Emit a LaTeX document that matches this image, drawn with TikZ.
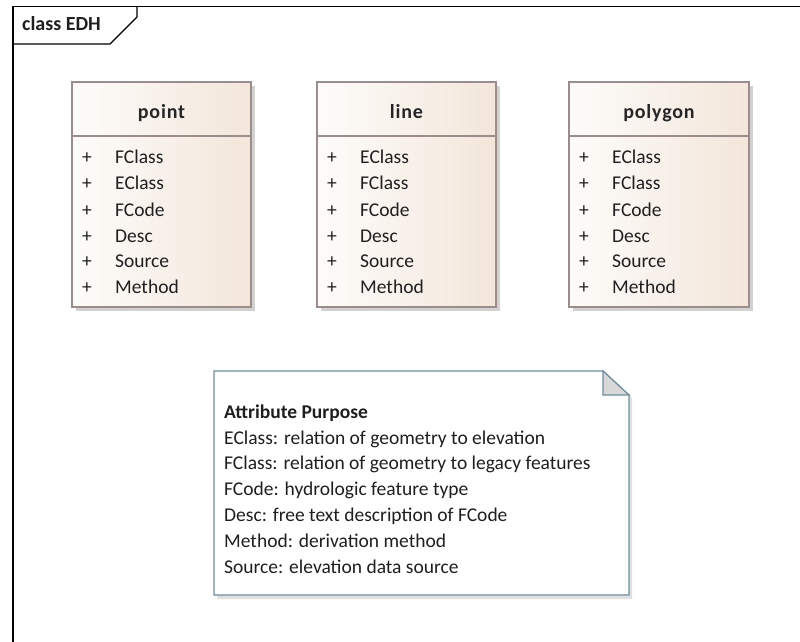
\documentclass[tikz,border=0pt]{standalone}
\usepackage{fontspec}
\setmainfont{Carlito}
\begin{document}
\begin{tikzpicture}[x=1pt,y=-1pt,
  txt/.style={font=\fontsize{19.5}{22}\selectfont, text=black!88, inner sep=0pt, anchor=base west},
  ttl/.style={font=\fontsize{20}{23}\selectfont\bfseries\addfontfeatures{LetterSpace=4}, text=black!85, inner sep=0pt, anchor=base},
  classbox/.style={draw=boxline, line width=1.2pt, left color=boxL, right color=boxR, shading angle=90},
  shadow/.style={fill=black!20, draw=none}]
\definecolor{boxline}{HTML}{9C8C8C}
\definecolor{boxL}{HTML}{FDFCFA}
\definecolor{boxR}{HTML}{F3E6DA}
\definecolor{noteline}{HTML}{6E8E9E}
\definecolor{foldfill}{HTML}{D8D8D8}
\useasboundingbox (0,0) rectangle (800,642);
\fill[white] (0,0) rectangle (800,642);
% frame
\draw[line width=1.3pt] (13,650) -- (13,6.5) -- (810,6.5);
\draw[line width=1.3pt] (13,44) -- (110,44) -- (137,17) -- (137,6.5);
\node[txt, font=\fontsize{20}{23}\selectfont\bfseries] (frm) at (22,31) {class EDH};
% class boxes
\foreach \nm/\xl/\xr/\a/\b in {point/72/251/FClass/EClass, line/317/496/EClass/FClass, polygon/569/749/EClass/FClass}{
  \fill[black!18] (\xl+4,86) rectangle (\xr+4,311);
  \path[classbox] (\xl,82) rectangle (\xr,307);
  \draw[boxline, line width=1.2pt] (\xl,136) -- (\xr,136);
  \node[ttl] (\nm-t) at ({(\xl+\xr)/2},118) {\nm};
  \node[txt] (\nm-p1) at (\xl+10,163) {+};
  \node[txt] (\nm-a1) at (\xl+43,163) {\a};
  \node[txt] (\nm-p2) at (\xl+10,189) {+};
  \node[txt] (\nm-a2) at (\xl+43,189) {\b};
  \node[txt] (\nm-p3) at (\xl+10,216) {+};
  \node[txt] (\nm-a3) at (\xl+43,216) {FCode};
  \node[txt] (\nm-p4) at (\xl+10,242) {+};
  \node[txt] (\nm-a4) at (\xl+43,242) {Desc};
  \node[txt] (\nm-p5) at (\xl+10,267) {+};
  \node[txt] (\nm-a5) at (\xl+43,267) {Source};
  \node[txt] (\nm-p6) at (\xl+10,293) {+};
  \node[txt] (\nm-a6) at (\xl+43,293) {Method};
}
% note
\fill[black!12] (217,374) -- (606,374) -- (632,398) -- (632,599) -- (217,599) -- cycle;
\draw[noteline, line width=1.2pt, fill=white] (214,371) -- (603,371) -- (629,395) -- (629,595) -- (214,595) -- cycle;
\draw[noteline, line width=1.2pt, fill=foldfill] (603,371) -- (603,395) -- (629,395) -- cycle;
\node[txt, font=\fontsize{19.5}{22}\selectfont\bfseries] (n0) at (224,418) {Attribute Purpose};
\node[txt] (n1) at (224,444) {EClass: relation of geometry to elevation};
\node[txt] (n2) at (224,469) {FClass: relation of geometry to legacy features};
\node[txt] (n3) at (224,495) {FCode: hydrologic feature type};
\node[txt] (n4) at (224,521) {Desc: free text description of FCode};
\node[txt] (n5) at (224,547) {Method: derivation method};
\node[txt] (n6) at (224,573) {Source: elevation data source};
\end{tikzpicture}
\end{document}
